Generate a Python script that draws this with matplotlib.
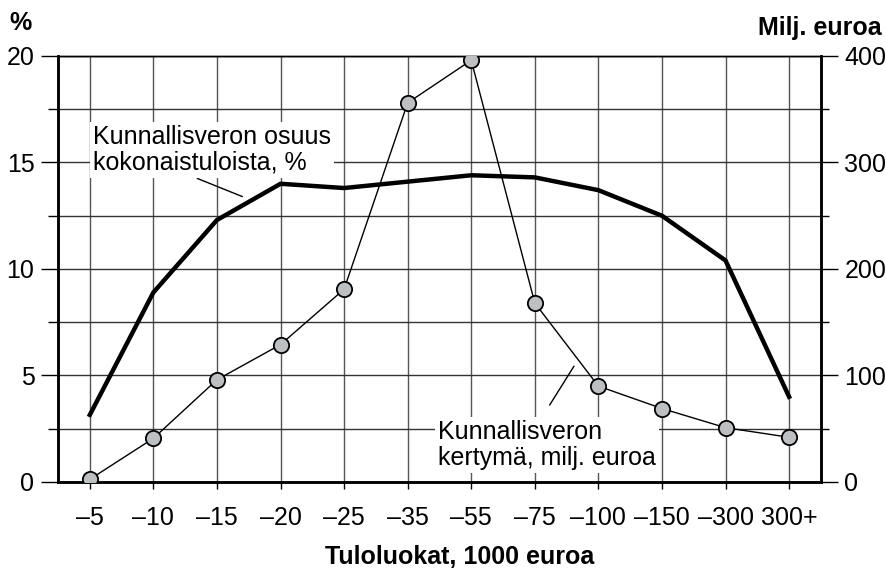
import matplotlib
matplotlib.use('Agg')
import matplotlib.pyplot as plt
from matplotlib.ticker import MultipleLocator

plt.rcParams['font.family'] = ['Liberation Sans', 'DejaVu Sans']

# Income classes, 1000 euros
categories = ['–5', '–10', '–15', '–20', '–25', '–35', '–55', '–75', '–100', '–150', '–300', '300+']
# Municipal tax share of total income, %
share_pct = [3.15, 8.9, 12.3, 14.0, 13.8, 14.1, 14.4, 14.3, 13.7, 12.5, 10.4, 4.0]
# Municipal tax accrual, million euros
accrual_meur = [2.5, 41, 96, 129, 181, 356, 396, 168, 90, 69, 51, 42]

x = list(range(len(categories)))
grid_col = '#333333'

fig = plt.figure(figsize=(8.86, 5.70), dpi=100)
ax = fig.add_axes([0.0655, 0.1544, 0.861, 0.7474])
ax2 = ax.twinx()

ax.set_xlim(-0.5, len(categories) - 0.5)
ax.set_ylim(0, 20)
ax2.set_ylim(0, 400)

# grid
ax.yaxis.set_major_locator(MultipleLocator(5))
ax.yaxis.set_minor_locator(MultipleLocator(2.5))
ax2.yaxis.set_major_locator(MultipleLocator(100))
ax2.yaxis.set_minor_locator(MultipleLocator(50))
ax.set_xticks(x)
ax.set_xticklabels(categories)
ax.grid(True, which='both', axis='y', color=grid_col, lw=1.0)
ax.grid(True, which='major', axis='x', color='#555555', lw=1.0)
ax.set_axisbelow(True)

for a in (ax, ax2):
    for s in ('left', 'right', 'bottom'):
        a.spines[s].set_linewidth(1.8)
    a.spines['top'].set_linewidth(1.0)

ax.tick_params(axis='y', which='major', length=12, width=1, labelsize=18, pad=5)
ax.tick_params(axis='y', which='minor', length=7, width=1)
ax.tick_params(axis='x', length=5, width=1, labelsize=18, pad=12)
ax2.tick_params(axis='y', which='major', length=12, width=1, labelsize=18, pad=5)
ax2.tick_params(axis='y', which='minor', length=6, width=1)

# thick line: share %
ax.plot(x, share_pct, color='black', lw=3.2, solid_joinstyle='miter', zorder=3)

# circles: accrual
ax2.plot(x, accrual_meur, color='black', lw=1.0, marker='o', markersize=11,
         markerfacecolor='#bcc0c3', markeredgecolor='black', markeredgewidth=1.3, zorder=4)

box = dict(facecolor='white', edgecolor='none', pad=2)
ax2.text(0.05, 312, 'Kunnallisveron osuus\nkokonaistuloista, %', fontsize=18,
         ha='left', va='center', linespacing=1.12, bbox=box, zorder=5)
ax2.annotate('', xy=(2.44, 267), xytext=(1.65, 286),
             arrowprops=dict(arrowstyle='-', color='black', lw=1.0))

ax2.text(5.48, 35, 'Kunnallisveron\nkertymä, milj. euroa', fontsize=18,
         ha='left', va='center', linespacing=1.12, bbox=box, zorder=5)
ax2.annotate('', xy=(7.64, 111), xytext=(7.21, 70),
             arrowprops=dict(arrowstyle='-', color='black', lw=1.0))

fig.text(0.011, 0.96, '%', fontsize=18, fontweight='bold', ha='left', va='center')
fig.text(0.995, 0.951, 'Milj. euroa', fontsize=18, fontweight='bold', ha='right', va='center')
fig.text(0.519, 0.023, 'Tuloluokat, 1000 euroa', fontsize=18, fontweight='bold',
         ha='center', va='center')

fig.savefig('out.png', dpi=100)
